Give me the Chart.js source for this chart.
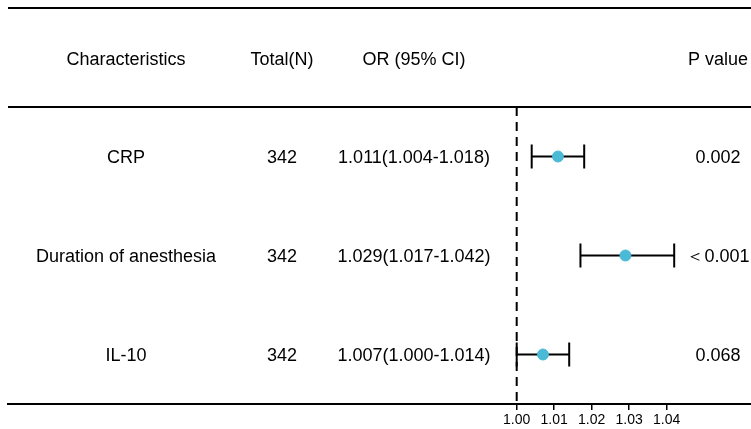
<!DOCTYPE html>
<html>
<head>
<meta charset="utf-8">
<script src="https://cdn.jsdelivr.net/npm/chart.js@4"></script>
<style>
  html, body { margin: 0; padding: 0; background: #fff; }
  #wrap { width: 751px; height: 429px; }
</style>
</head>
<body>
<div id="wrap"><canvas id="forest"></canvas></div>
<script>
// table contents
var headers = ['Characteristics', 'Total(N)', 'OR (95% CI)', 'P value'];
var characteristics = ['CRP', 'Duration of anesthesia', 'IL-10'];
var totals = ['342', '342', '342'];
var orLabels = ['1.011(1.004-1.018)', '1.029(1.017-1.042)', '1.007(1.000-1.014)'];
var pValues = ['0.002', '＜0.001', '0.068'];

// plotted values
var orValues = [1.011, 1.029, 1.007];
var lowerCI = [1.004, 1.017, 1.000];
var upperCI = [1.018, 1.042, 1.014];
var xTicks = [1.00, 1.01, 1.02, 1.03, 1.04];
var refValue = 1.00;

var FONT = 'Liberation Sans, Arial, sans-serif';
var colX = [126, 282, 414, 718];

// one line per row for the confidence interval, caps from rotated 'line' points
var datasets = [{
    type: 'scatter',
    data: orValues.map(function(v, i) { return { x: v, y: i + 1 }; }),
    backgroundColor: '#4bbad6',
    borderColor: '#4bbad6',
    pointRadius: 5.5,
    order: 0
}];

characteristics.forEach(function(c, i) {
    datasets.push({
        type: 'line',
        data: [{ x: lowerCI[i], y: i + 1 }, { x: upperCI[i], y: i + 1 }],
        borderColor: '#000',
        borderWidth: 2,
        pointStyle: 'line',
        rotation: 90,
        pointRadius: 12,
        pointBorderWidth: 2,
        pointBorderColor: '#000',
        order: 1
    });
});

var tablePlugin = {
    id: 'tablePlugin',
    afterDraw: function(chart) {
        var ctx = chart.ctx;
        var xs = chart.scales.x;
        var ys = chart.scales.y;
        var area = chart.chartArea;

        ctx.save();
        // horizontal rules
        ctx.strokeStyle = '#000';
        ctx.lineWidth = 2;
        [-0.5, 0.5].forEach(function(v) {
            var y = Math.round(ys.getPixelForValue(v));
            ctx.beginPath();
            ctx.moveTo(area.left, y);
            ctx.lineTo(area.right, y);
            ctx.stroke();
        });

        // reference line
        var rx = xs.getPixelForValue(refValue);
        ctx.setLineDash([9, 6]);
        ctx.beginPath();
        ctx.moveTo(rx, ys.getPixelForValue(0.5));
        ctx.lineTo(rx, ys.getPixelForValue(3.5));
        ctx.stroke();
        ctx.setLineDash([]);

        // text
        ctx.fillStyle = '#000';
        ctx.font = '18px ' + FONT;
        ctx.textAlign = 'center';
        ctx.textBaseline = 'middle';
        headers.forEach(function(h, j) {
            ctx.fillText(h, colX[j], ys.getPixelForValue(0) + 2.5);
        });
        characteristics.forEach(function(c, i) {
            var y = ys.getPixelForValue(i + 1) + 2;
            ctx.fillText(c, colX[0], y);
            ctx.fillText(totals[i], colX[1], y);
            ctx.fillText(orLabels[i], colX[2], y);
            ctx.fillText(pValues[i], colX[3], y);
        });
        ctx.restore();
    }
};

new Chart(document.getElementById('forest'), {
    data: { datasets: datasets },
    options: {
        responsive: true,
        maintainAspectRatio: false,
        animation: false,
        layout: { autoPadding: false, padding: { left: 8, right: 0, top: 8, bottom: 0 } },
        plugins: { legend: { display: false }, tooltip: { enabled: false } },
        scales: {
            x: {
                type: 'linear',
                min: 0.86435,
                max: 1.06248,
                afterBuildTicks: function(scale) {
                    scale.ticks = xTicks.map(function(v) { return { value: v }; });
                },
                afterFit: function(scale) { scale.height = 25; },
                border: { color: '#000', width: 2 },
                grid: { drawOnChartArea: false, drawTicks: true, tickLength: 6, color: '#000', lineWidth: 1.5 },
                ticks: {
                    color: '#000',
                    padding: 2,
                    maxRotation: 0,
                    font: { family: FONT, size: 14 },
                    callback: function(v) { return v.toFixed(2); }
                }
            },
            y: {
                type: 'linear',
                display: false,
                reverse: true,
                min: -0.5,
                max: 3.5
            }
        }
    },
    plugins: [tablePlugin]
});
</script>
</body>
</html>
